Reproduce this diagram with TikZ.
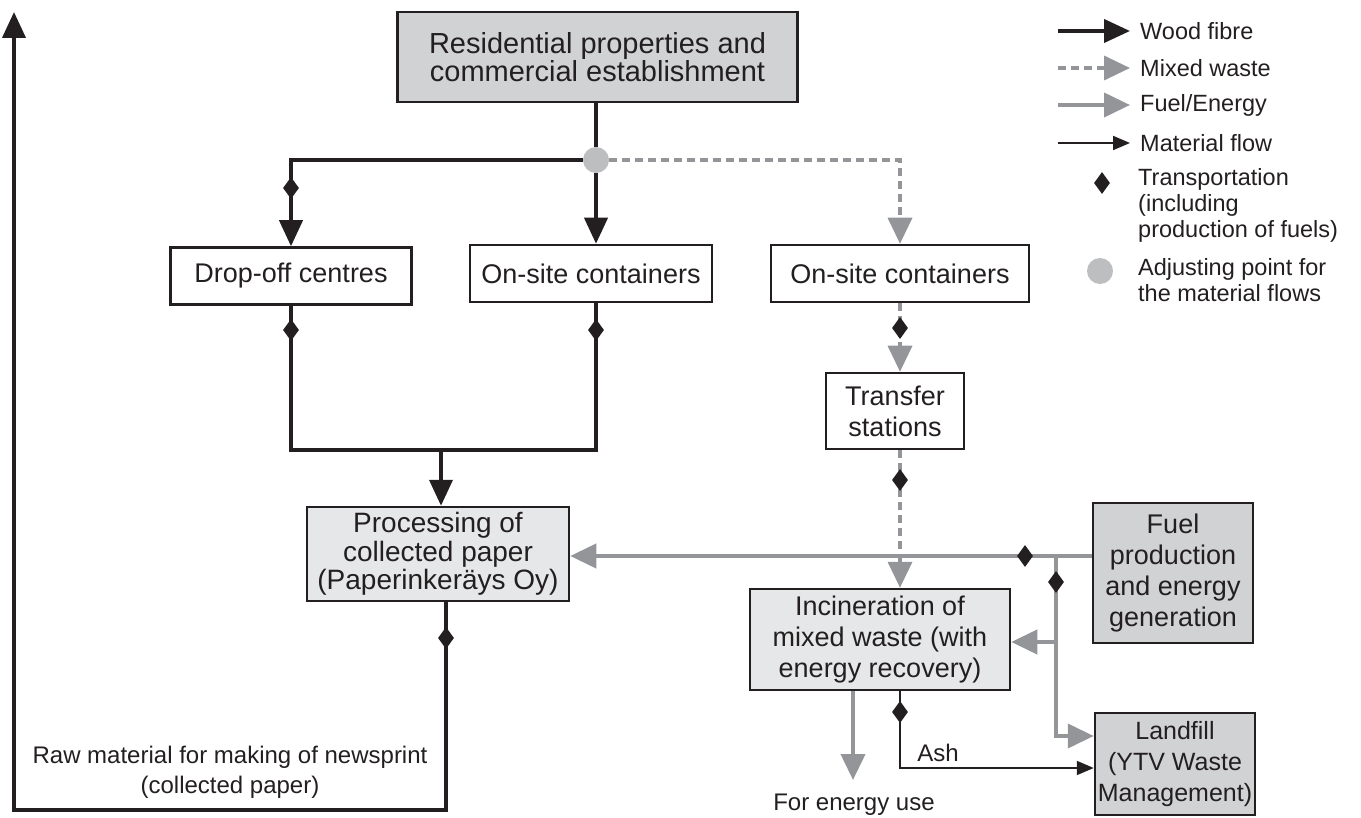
\documentclass[tikz,border=0pt]{standalone}
\usepackage{fontspec}
\setmainfont{Liberation Sans}
\usetikzlibrary{arrows.meta,shapes.geometric}
\definecolor{ink}{HTML}{231F20}
\definecolor{boxdark}{HTML}{D1D2D4}
\definecolor{boxlight}{HTML}{E6E7E8}
\definecolor{flowgrey}{HTML}{939598}
\definecolor{dotgrey}{HTML}{BCBEC0}
\begin{document}
\begin{tikzpicture}[x=1pt,y=-1pt,
  box/.style={draw=ink,line width=2.5pt,align=center,text=ink,inner sep=0pt,
    font=\fontsize{27}{31}\selectfont},
  lbl/.style={align=center,text=ink,inner sep=0pt,font=\fontsize{24}{30}\selectfont},
  legtext/.style={anchor=west,align=left,text=ink,inner sep=0pt,font=\fontsize{23.5}{26}\selectfont},
  wood/.style={draw=ink,line width=4pt},
  woodtip/.style={-{Triangle[length=26pt,width=23pt]}},
  mixed/.style={draw=flowgrey,line width=3.5pt,dash pattern=on 8pt off 5pt},
  fuelflow/.style={draw=flowgrey,line width=4pt},
  greytip/.style={-{Triangle[length=26pt,width=24pt]}},
  matflow/.style={draw=ink,line width=2pt,-{Triangle[length=17pt,width=14pt]}},
  tr/.style={diamond,fill=ink,inner sep=0pt,minimum width=16pt,minimum height=22pt},
  adjpt/.style={circle,fill=dotgrey,inner sep=0pt,minimum size=26pt}]
\useasboundingbox (0,0) rectangle (1361,818);

% boxes
\node[box,fill=boxdark,minimum width=400pt,minimum height=90pt,
  font=\fontsize{29}{28}\selectfont] (res) at (597.5,57)
  {Residential properties and\\commercial establishment};
\node[box,minimum width=241pt,minimum height=57pt] (drop) at (291,276) {Drop-off centres};
\node[box,minimum width=242pt,minimum height=57pt] (os1) at (591,273.5) {On-site containers};
\node[box,minimum width=258pt,minimum height=57pt] (os2) at (900,273.5) {On-site containers};
\node[box,minimum width=138pt,minimum height=76pt] (trans) at (895,411) {Transfer\\stations};
\node[box,fill=boxlight,minimum width=262pt,minimum height=94pt,
  font=\fontsize{28}{28.5}\selectfont] (proc) at (438,554)
  {Processing of\\collected paper\\(Paperinkeräys Oy)};
\node[box,fill=boxdark,minimum width=160pt,minimum height=140pt] (fuel) at (1173,573)
  {Fuel\\production\\and energy\\generation};
\node[box,fill=boxlight,minimum width=260pt,minimum height=101pt] (inc) at (880,639.5)
  {Incineration of\\mixed waste (with\\energy recovery)};
\node[box,fill=boxdark,minimum width=160pt,minimum height=102pt,
  font=\fontsize{25}{31}\selectfont] (land) at (1175,764)
  {Landfill\\(YTV Waste\\Management)};

% adjusting point
\node[adjpt] (dot) at (596,160) {};

% junctions and free ends
\coordinate (jn) at (441,450);
\coordinate (rb) at (446,810);
\coordinate (lb) at (14,810);
\coordinate (up) at (14,12);
\coordinate (fj) at (1056,556);
\coordinate (fk) at (1056,642);
\coordinate (lj) at (1056,736);
\coordinate (eu) at (853,780);
\coordinate (ac) at (900,768);

% wood fibre
\draw[wood] (res.south -| dot) -- (dot);
\draw[wood,woodtip] (dot) -| (drop.north);
\draw[wood,woodtip] (dot) -- (os1.north -| dot);
\draw[wood] (drop.south) |- (jn) -| (os1.south -| dot);
\draw[wood,woodtip] (jn) -- (proc.north -| jn);
\draw[wood,woodtip] (proc.south -| rb) -- (rb) -- (lb) -- (up);

% mixed waste
\draw[mixed,greytip] (dot) -| (os2.north);
\draw[mixed,greytip] (os2.south) -- (trans.north -| os2.south);
\draw[mixed,greytip] (trans.south -| os2.south) -- (inc.north -| os2.south);

% fuel / energy
\draw[fuelflow,greytip] (fuel.west |- fj) -- (proc.east |- fj);
\draw[fuelflow,greytip] (fj) -- (lj) -- (land.west |- lj);
\draw[fuelflow,greytip] (fk) -- (inc.east |- fk);
\draw[fuelflow,greytip] (inc.south -| eu) -- (eu);

% ash
\draw[matflow] (inc.south -| ac) -- (ac) -- (land.west |- ac);

% transportation marks
\node[tr] (t1) at (291,188) {};
\node[tr] (t2) at (291,330) {};
\node[tr] (t3) at (596,330) {};
\node[tr] (t4) at (446,638) {};
\node[tr] (t5) at (900,328) {};
\node[tr] (t6) at (900,480) {};
\node[tr] (t7) at (1025,556) {};
\node[tr] (t8) at (1056,582) {};
\node[tr] (t9) at (900,712) {};

% labels
\node[lbl] (raw) at (230,772) {Raw material for making of newsprint\\(collected paper)};
\node[lbl] (forenergy) at (854,805) {For energy use};
\node[lbl] (ash) at (938,753) {Ash};

% legend
\coordinate (k1a) at (1058,31);  \coordinate (k1b) at (1130,31);
\coordinate (k2a) at (1058,68);  \coordinate (k2b) at (1130,68);
\coordinate (k3a) at (1058,105); \coordinate (k3b) at (1130,105);
\coordinate (k4a) at (1058,143); \coordinate (k4b) at (1130,143);
\draw[wood,woodtip] (k1a) -- (k1b);
\draw[mixed,greytip] (k2a) -- (k2b);
\draw[fuelflow,greytip] (k3a) -- (k3b);
\draw[matflow] (k4a) -- (k4b);
\node[legtext] (kt1) at (1140,31) {Wood fibre};
\node[legtext] (kt2) at (1140,68) {Mixed waste};
\node[legtext] (kt3) at (1140,105) {Fuel/Energy};
\node[legtext] (kt4) at (1140,143) {Material flow};
\node[tr] (kd) at (1102,183) {};
\node[legtext,anchor=north west] (kt5) at (1138,168) {Transportation\\(including\\production of fuels)};
\node[adjpt] (kc) at (1100,271) {};
\node[legtext,anchor=north west] (kt6) at (1138,258) {Adjusting point for\\the material flows};
\end{tikzpicture}
\end{document}
